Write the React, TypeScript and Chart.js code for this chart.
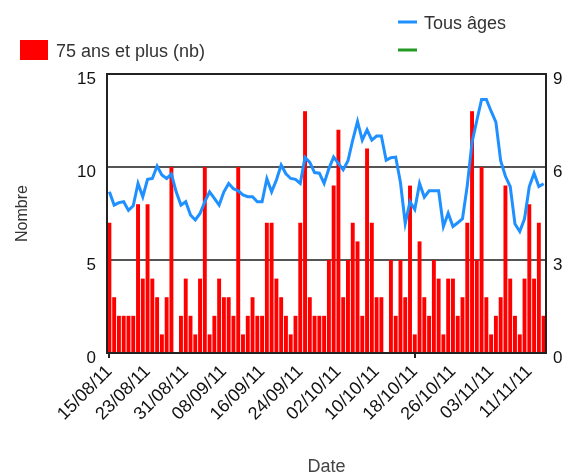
import React, { useEffect, useRef } from "react";
import { Chart, registerables } from "chart.js";

Chart.register(...registerables);

const DATES = [
  "15/08/11","16/08/11","17/08/11","18/08/11","19/08/11","20/08/11","21/08/11","22/08/11","23/08/11","24/08/11",
  "25/08/11","26/08/11","27/08/11","28/08/11","29/08/11","30/08/11","31/08/11",
  "01/09/11","02/09/11","03/09/11","04/09/11","05/09/11","06/09/11","07/09/11","08/09/11","09/09/11","10/09/11",
  "11/09/11","12/09/11","13/09/11","14/09/11","15/09/11","16/09/11","17/09/11","18/09/11","19/09/11","20/09/11",
  "21/09/11","22/09/11","23/09/11","24/09/11","25/09/11","26/09/11","27/09/11","28/09/11","29/09/11","30/09/11",
  "01/10/11","02/10/11","03/10/11","04/10/11","05/10/11","06/10/11","07/10/11","08/10/11","09/10/11","10/10/11",
  "11/10/11","12/10/11","13/10/11","14/10/11","15/10/11","16/10/11","17/10/11","18/10/11","19/10/11","20/10/11",
  "21/10/11","22/10/11","23/10/11","24/10/11","25/10/11","26/10/11","27/10/11","28/10/11","29/10/11","30/10/11","31/10/11",
  "01/11/11","02/11/11","03/11/11","04/11/11","05/11/11","06/11/11","07/11/11","08/11/11","09/11/11","10/11/11",
  "11/11/11","12/11/11","13/11/11","14/11/11"
];

const AGE75 = [
  7, 3, 2, 2, 2, 2, 8, 4, 8, 4, 3, 1, 3, 10, 0, 2, 4, 2, 1, 4,
  10, 1, 2, 4, 3, 3, 2, 10, 1, 2, 3, 2, 2, 7, 7, 4, 3, 2, 1, 2,
  7, 13, 3, 2, 2, 2, 5, 9, 12, 3, 5, 7, 6, 2, 11, 7, 3, 3, 0, 5,
  2, 5, 3, 9, 1, 6, 3, 2, 5, 4, 1, 4, 4, 2, 3, 7, 13, 5, 10, 3,
  1, 2, 3, 9, 4, 2, 1, 4, 8, 4, 7, 2
];

const ALL_AGES = [
  5.2, 4.77, 4.85, 4.88, 4.6, 4.75, 5.47, 5.04, 5.6, 5.63,
  6.03, 5.74, 5.63, 5.77, 5.2, 4.77, 4.88, 4.45, 4.29, 4.5,
  4.88, 5.2, 4.99, 4.77, 5.2, 5.47, 5.3, 5.23, 5.1, 5.04,
  5.04, 4.88, 4.88, 5.62, 5.2, 5.58, 6.06, 5.78, 5.63, 5.6,
  5.47, 6.31, 6.15, 5.82, 5.8, 5.47, 5.95, 6.32, 6.12, 5.91,
  6.2, 6.87, 7.47, 6.87, 7.2, 6.87, 7.0, 7.0, 6.22, 6.3,
  6.32, 5.5, 4.18, 4.88, 4.63, 5.47, 5.03, 5.23, 5.23, 5.23,
  4.08, 4.51, 4.08, 4.2, 4.33, 5.4, 6.8, 7.5, 8.18, 8.18,
  7.8, 7.45, 6.2, 5.7, 5.37, 4.16, 3.92, 4.33, 5.37, 5.8,
  5.37, 5.46
];

const LEFT_AXIS = { min: 0, max: 15, step: 5 };
const RIGHT_AXIS = { min: 0, max: 9, step: 3 };
const LABEL_EVERY = 8;

const BAR_LABEL = "75 ans et plus (nb)";
const LINE_LABEL = "Tous âges";
const EMPTY_LABEL = "";

const FONT = "'Liberation Sans', Arial, Helvetica, sans-serif";
const RED = "#ff0000";
const BLUE = "#1e90ff";
const GREEN = "#229922";

const legendPlugin = {
  id: "customLegendFrame",
  afterDatasetsDraw(chart: any) {
    const ctx = chart.ctx;
    const a = chart.chartArea;
    ctx.save();
    ctx.strokeStyle = "#222";
    ctx.lineWidth = 2;
    ctx.strokeRect(a.left, a.top, a.right - a.left, a.bottom - a.top);
    ctx.restore();
  },
  afterDraw(chart: any) {
    const ctx = chart.ctx;
    ctx.save();
    ctx.font = `18px ${FONT}`;
    ctx.textBaseline = "alphabetic";
    ctx.textAlign = "left";
    ctx.fillStyle = RED;
    ctx.fillRect(20, 40, 28, 20);
    ctx.fillStyle = "#333";
    ctx.fillText(BAR_LABEL, 56, 57);
    ctx.lineWidth = 3;
    ctx.strokeStyle = BLUE;
    ctx.beginPath();
    ctx.moveTo(398, 22);
    ctx.lineTo(417, 22);
    ctx.stroke();
    ctx.fillStyle = "#333";
    ctx.fillText(LINE_LABEL, 424, 29);
    ctx.strokeStyle = GREEN;
    ctx.beginPath();
    ctx.moveTo(398, 50);
    ctx.lineTo(417, 50);
    ctx.stroke();
    ctx.fillText(EMPTY_LABEL, 424, 57);
    ctx.restore();
  },
};

export default function App() {
  const ref = useRef<HTMLCanvasElement | null>(null);

  useEffect(() => {
    if (!ref.current) return;
    Chart.defaults.font.family = FONT;
    const chart = new Chart(ref.current, {
      type: "bar",
      data: {
        labels: DATES,
        datasets: [
          {
            type: "line",
            label: LINE_LABEL,
            data: ALL_AGES,
            yAxisID: "y1",
            borderColor: BLUE,
            backgroundColor: BLUE,
            borderWidth: 3,
            pointRadius: 0,
            tension: 0,
            order: 0,
          } as any,
          {
            type: "bar",
            label: BAR_LABEL,
            data: AGE75,
            yAxisID: "y",
            backgroundColor: RED,
            borderWidth: 0,
            barPercentage: 0.82,
            categoryPercentage: 1,
            order: 1,
          },
        ],
      },
      options: {
        animation: false,
        responsive: false,
        maintainAspectRatio: false,
        layout: { padding: { top: 74, left: 0, right: 0, bottom: 0 } },
        plugins: { legend: { display: false }, tooltip: { enabled: false } },
        scales: {
          x: {
            offset: true,
            grid: {
              offset: false,
              drawOnChartArea: false,
              drawTicks: true,
              tickLength: 5,
              lineWidth: 2,
              tickColor: (c: any) => (c.index % LABEL_EVERY === 0 ? "#222" : "rgba(0,0,0,0)"),
              color: "rgba(0,0,0,0)",
            },
            border: { display: true, color: "#222", width: 2 },
            ticks: {
              autoSkip: false,
              maxRotation: 45,
              minRotation: 45,
              padding: 3,
              color: "#111",
              font: { size: 18, family: FONT },
              callback: (_v: any, i: number) => (i % LABEL_EVERY === 0 ? DATES[i] : null),
            },
            title: {
              display: true,
              text: "Date",
              color: "#444",
              font: { size: 18, family: FONT },
              padding: { top: 0, bottom: -3 },
            },
            afterFit: (s: any) => {
              s.height = 122;
            },
          },
          y: {
            position: "left",
            min: LEFT_AXIS.min,
            max: LEFT_AXIS.max,
            ticks: {
              stepSize: LEFT_AXIS.step,
              padding: 11,
              labelOffset: 5,
              color: "#111",
              font: { size: 17, family: FONT },
            },
            grid: { color: "#555", lineWidth: 2, drawTicks: false },
            border: { display: true, color: "#222", width: 2 },
            title: {
              display: true,
              text: "Nombre",
              color: "#333",
              font: { size: 16, family: FONT },
              padding: { top: 13, bottom: 0 },
            },
            afterFit: (s: any) => {
              s.width = 107;
            },
          },
          y1: {
            position: "right",
            min: RIGHT_AXIS.min,
            max: RIGHT_AXIS.max,
            ticks: {
              stepSize: RIGHT_AXIS.step,
              padding: 7,
              labelOffset: 5,
              color: "#111",
              font: { size: 17, family: FONT },
            },
            grid: { drawOnChartArea: false, drawTicks: false },
            border: { display: true, color: "#222", width: 2 },
            afterFit: (s: any) => {
              s.width = 28;
            },
          },
        },
      },
      plugins: [legendPlugin],
    });
    return () => chart.destroy();
  }, []);

  return (
    <div style={{ position: "fixed", left: 0, top: 0, width: 574, height: 475, background: "#fff" }}>
      <canvas ref={ref} width={574} height={475} style={{ display: "block", width: 574, height: 475 }} />
    </div>
  );
}
